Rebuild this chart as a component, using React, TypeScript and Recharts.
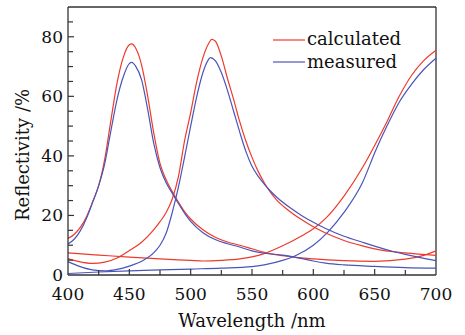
import React from 'react';
import { LineChart, Line, XAxis, YAxis, ReferenceLine, Customized } from 'recharts';

// Wavelength (nm) / reflectivity (%) samples
const calc1X = [400, 405, 410, 415, 420, 425, 430, 435, 440, 445, 450, 452, 455, 460, 465, 470, 475, 480, 485, 490, 495, 500, 510, 520, 530, 540, 550, 560, 575, 600, 625, 650, 675, 690, 700];
const calc1Y = [12.3, 13.6, 16, 19.5, 24.5, 30, 39, 52, 64.5, 73, 77.3, 77.6, 76.3, 70.5, 60, 47.5, 37.5, 32, 28, 24.5, 21.3, 18.8, 15.2, 12.7, 11.1, 10, 8.8, 7.6, 6.5, 5.4, 4.8, 4.6, 5.3, 6.6, 8.1];

const meas1X = [400, 405, 410, 415, 420, 425, 430, 435, 440, 445, 450, 452, 455, 460, 465, 470, 475, 480, 485, 490, 495, 500, 510, 520, 530, 540, 550, 560, 575, 590, 600, 610, 625, 650, 675, 700];
const meas1Y = [10.4, 12, 14.8, 19, 24.3, 30, 37.5, 48.5, 59, 66.5, 71, 71.4, 70.2, 65.5, 55.5, 44, 36, 31, 27.5, 24, 20.8, 18, 14.2, 11.9, 10.5, 9.4, 8.1, 7.3, 6.7, 5.6, 4.7, 4.0, 3.4, 2.9, 2.5, 2.3];

const calc2X = [400, 410, 420, 430, 440, 450, 460, 470, 475, 480, 485, 490, 495, 500, 505, 510, 515, 517, 520, 525, 530, 535, 540, 545, 550, 555, 560, 565, 570, 580, 590, 600, 610, 625, 640, 650, 675, 700];
const calc2Y = [5.5, 4.4, 3.9, 4.3, 5.7, 8.2, 11, 15.2, 17.9, 21, 25.5, 33, 45, 54.5, 65, 73, 78, 79.1, 78.6, 73.5, 66, 59, 51.5, 45, 39.5, 34.8, 31, 27.8, 25.2, 21.6, 18.7, 16.2, 14.1, 11.6, 9.8, 8.8, 7.4, 6.6];

const meas2X = [400, 410, 420, 430, 440, 450, 460, 470, 475, 480, 485, 490, 495, 500, 505, 510, 514, 516, 520, 525, 530, 535, 540, 545, 550, 555, 560, 565, 570, 580, 590, 600, 610, 625, 640, 650, 665, 675, 700];
const meas2Y = [4.5, 2.8, 1.7, 1.4, 1.9, 3.0, 4.6, 7.5, 10, 14, 21, 29.5, 39.5, 50, 60, 68, 72, 73, 72, 68, 62, 55, 48, 41.5, 36.5, 33.2, 30.5, 28.2, 26.2, 22.9, 20.1, 17.7, 15.6, 13, 11, 9.7, 7.9, 6.9, 4.8];

const calc3X = [400, 425, 450, 475, 500, 510, 525, 540, 550, 560, 575, 590, 600, 610, 625, 640, 650, 660, 670, 680, 690, 700];
const calc3Y = [7.4, 6.7, 6.0, 5.4, 4.9, 4.7, 4.9, 5.4, 6.1, 7.2, 9.8, 13, 15.5, 19, 26.5, 36, 43.5, 51.5, 60, 67, 72, 75.5];

const meas3X = [400, 425, 450, 475, 500, 525, 550, 560, 575, 585, 600, 612, 625, 640, 651, 660, 670, 680, 690, 700];
const meas3Y = [0.5, 1.0, 1.4, 1.7, 2.0, 2.3, 2.8, 3.4, 4.9, 6.4, 10, 14.5, 21, 31, 42, 50, 58, 64, 69, 72.8];

const xTicks = [400, 425, 450, 475, 500, 525, 550, 575, 600, 625, 650, 675, 700];
const yTicks = [0, 5, 10, 15, 20, 25, 30, 35, 40, 45, 50, 55, 60, 65, 70, 75, 80, 85, 90];

const seriesNames = ['calculated', 'measured'];
const RED = '#ee3a2c';
const BLUE = '#4a55b8';
const AXIS = '#333333';
const FONT = '"DejaVu Serif", serif';

const pts = (xs: number[], ys: number[]) => xs.map((x, i) => ({ x, y: ys[i] }));

const XTick = (props: any) => {
  const { x, y, payload } = props;
  const v = payload.value;
  const major = v % 50 === 0;
  return (
    <g>
      {v > 400 && v < 700 && (
        <line x1={x} y1={y} x2={x} y2={y - (major ? 6 : 5)} stroke={AXIS} strokeWidth={1.2} />
      )}
      {major && (
        <text x={x} y={y + 19} textAnchor="middle" dominantBaseline="central" fontFamily={FONT} fontSize={17} fill="#111">
          {v}
        </text>
      )}
    </g>
  );
};

const YTick = (props: any) => {
  const { x, y, payload } = props;
  const v = payload.value;
  const major = v % 20 === 0;
  return (
    <g>
      {v > 0 && v < 90 && (
        <line x1={x} y1={y} x2={x + (major ? 6 : 5)} y2={y} stroke={AXIS} strokeWidth={1.2} />
      )}
      {major && (
        <text x={x - 5} y={y} textAnchor="end" dominantBaseline="central" fontFamily={FONT} fontSize={17} fill="#111">
          {v}
        </text>
      )}
    </g>
  );
};

const LegendBox = () => (
  <g>
    <line x1={273} y1={40} x2={305} y2={40} stroke={RED} strokeWidth={1.2} />
    <text x={307} y={45} fontFamily={FONT} fontSize={18} fill="#111">{seriesNames[0]}</text>
    <line x1={273} y1={62} x2={305} y2={62} stroke={BLUE} strokeWidth={1.2} />
    <text x={307} y={68} fontFamily={FONT} fontSize={18} fill="#111">{seriesNames[1]}</text>
  </g>
);

const YLabel = () => (
  <text
    x={22}
    y={155}
    transform="rotate(-90, 22, 155)"
    textAnchor="middle"
    dominantBaseline="central"
    fontFamily={FONT}
    fontSize={18}
    fill="#111"
  >
    Reflectivity /%
  </text>
);

export default function App() {
  return (
    <div style={{ position: 'absolute', left: 0, top: 0, width: 465, height: 335, background: '#fff' }}>
      <LineChart width={465} height={335} margin={{ top: 7, right: 29, bottom: 0, left: 0 }}>
        <XAxis
          dataKey="x"
          type="number"
          domain={[400, 700]}
          ticks={xTicks}
          interval={0}
          height={60}
          tickSize={0}
          tickMargin={0}
          tickLine={false}
          tick={<XTick />}
          stroke={AXIS}
          strokeWidth={1.3}
          allowDuplicatedCategory={false}
          label={{ value: 'Wavelength /nm', position: 'insideBottom', offset: 8, fontFamily: FONT, fontSize: 18, fill: '#111' }}
        />
        <YAxis
          type="number"
          domain={[0, 90]}
          ticks={yTicks}
          interval={0}
          width={68}
          tickSize={0}
          tickMargin={0}
          tickLine={false}
          tick={<YTick />}
          stroke={AXIS}
          strokeWidth={1.3}
        />
        <ReferenceLine y={90} stroke={AXIS} strokeWidth={1.3} />
        <ReferenceLine x={700} stroke={AXIS} strokeWidth={1.3} />
        <Line data={pts(calc1X, calc1Y)} dataKey="y" type="monotone" stroke={RED} strokeWidth={1.2} dot={false} isAnimationActive={false} />
        <Line data={pts(calc2X, calc2Y)} dataKey="y" type="monotone" stroke={RED} strokeWidth={1.2} dot={false} isAnimationActive={false} />
        <Line data={pts(calc3X, calc3Y)} dataKey="y" type="monotone" stroke={RED} strokeWidth={1.2} dot={false} isAnimationActive={false} />
        <Line data={pts(meas1X, meas1Y)} dataKey="y" type="monotone" stroke={BLUE} strokeWidth={1.2} dot={false} isAnimationActive={false} />
        <Line data={pts(meas2X, meas2Y)} dataKey="y" type="monotone" stroke={BLUE} strokeWidth={1.2} dot={false} isAnimationActive={false} />
        <Line data={pts(meas3X, meas3Y)} dataKey="y" type="monotone" stroke={BLUE} strokeWidth={1.2} dot={false} isAnimationActive={false} />
        <Customized component={YLabel} />
        <Customized component={LegendBox} />
      </LineChart>
    </div>
  );
}
